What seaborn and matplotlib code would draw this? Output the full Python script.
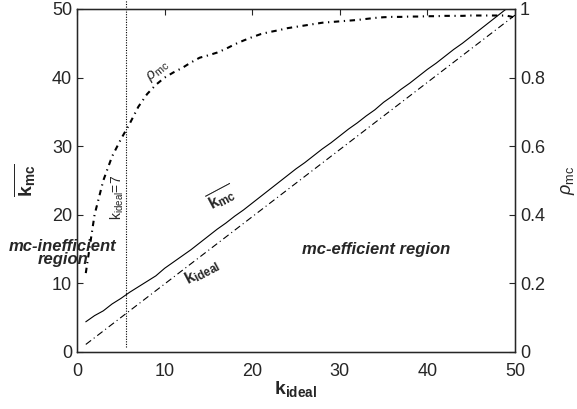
import numpy as np
import pandas as pd
import matplotlib
matplotlib.use("Agg")
import matplotlib.pyplot as plt
import seaborn as sns

# values
k_ideal = list(range(1, 51))
k_mc = [4.4, 5.3, 6.0, 7.0, 7.8, 8.7, 9.5, 10.3, 11.1, 12.2,
        13.1, 14.0, 14.9, 15.9, 16.9, 17.9, 18.8, 19.8, 20.7, 21.7,
        22.7, 23.7, 24.7, 25.7, 26.7, 27.6, 28.6, 29.6, 30.5, 31.5,
        32.5, 33.4, 34.4, 35.3, 36.4, 37.3, 38.3, 39.2, 40.2, 41.2,
        42.1, 43.1, 44.1, 45.0, 46.0, 47.0, 48.0, 49.0, 50.0, 51.0]
rho_mc = [0.23, 0.40, 0.50, 0.57, 0.62, 0.665, 0.715, 0.752, 0.779, 0.80,
          0.815, 0.828, 0.844, 0.858, 0.865, 0.873, 0.884, 0.897, 0.908, 0.918,
          0.927, 0.933, 0.938, 0.944, 0.948, 0.952, 0.956, 0.96, 0.962, 0.964,
          0.966, 0.968, 0.971, 0.974, 0.976, 0.977, 0.977, 0.978, 0.978, 0.979,
          0.979, 0.98, 0.98, 0.98, 0.981, 0.981, 0.981, 0.981, 0.981, 0.975]
ideal_x = [1, 50]
ideal_y = [1.1, 49.1]
k_thresh = 5.6

df = pd.DataFrame({'k': k_ideal, 'kmc': k_mc, 'rho': rho_mc})
ideal = pd.DataFrame({'x': ideal_x, 'y': ideal_y})

sns.set_style('white')
plt.rcParams['font.family'] = ['Liberation Sans', 'DejaVu Sans']
plt.rcParams['mathtext.fontset'] = 'custom'
plt.rcParams['mathtext.rm'] = 'Liberation Sans'
plt.rcParams['mathtext.it'] = 'Liberation Sans:italic'
plt.rcParams['mathtext.bf'] = 'Liberation Sans:bold'

fig = plt.figure(figsize=(5.77, 4.09), dpi=100)
ax = fig.add_axes([0.1335, 0.1394, 0.759, 0.8386])

sns.lineplot(data=df, x='k', y='kmc', ax=ax, color='black', lw=0.8)
sns.lineplot(data=ideal, x='x', y='y', ax=ax, color='black', lw=0.8,
             linestyle=(0, (6, 3, 1, 3)))
ax.plot([k_thresh, k_thresh], [0.7, 52.5], color='black', lw=0.8,
        linestyle=(0, (1, 1.3)), clip_on=False)

ax.set_xlim(0, 50)
ax.set_ylim(0, 50)
ax.set_xticks(range(0, 51, 10))
ax.set_yticks(range(0, 51, 10))
ax.tick_params(direction='in', labelsize=13, length=4, top=True, width=0.8)
ax.tick_params(axis='x', pad=8)
ax.set_xlabel(r'$\mathbf{k}_{\mathbf{ideal}}$', fontsize=14, labelpad=-1)
ax.set_ylabel(r'$\overline{\mathbf{k}_{\mathbf{mc}}}$', fontsize=14, labelpad=10)
for s in ax.spines.values():
    s.set_linewidth(1.0)
    s.set_color('black')

ax2 = ax.twinx()
sns.lineplot(data=df, x='k', y='rho', ax=ax2, color='black', lw=1.5,
             linestyle=(0, (2.6, 2.2, 0.6, 2.2)))
ax2.set_ylim(0, 1)
ax2.set_yticks([0, 0.2, 0.4, 0.6, 0.8, 1])
ax2.set_yticklabels(['0', '0.2', '0.4', '0.6', '0.8', '1'])
ax2.tick_params(direction='in', labelsize=13, length=4, width=0.8)
ax2.set_ylabel(r'$\rho_{\mathrm{mc}}$', fontsize=13, labelpad=10)
ax2.set_xlabel('')

ax.text(9.2, 41.0, r'$\rho_{\mathrm{mc}}$', fontsize=11, rotation=40,
        ha='center', va='center')
ax.text(4.6, 22.5, r'$\mathrm{k_{ideal}}$=7', fontsize=10, rotation=90,
        ha='center', va='center')
ax.text(16.5, 22.6, r'$\overline{\mathbf{k}_{\mathbf{mc}}}$', fontsize=12,
        rotation=28, ha='center', va='center')
ax.text(14.3, 11.6, r'$\mathbf{k}_{\mathbf{ideal}}$', fontsize=12,
        rotation=28, ha='center', va='center')
ax.text(-1.6, 14.4, 'mc-inefficient\nregion', fontsize=12, fontweight='bold',
        style='italic', ha='center', va='center', linespacing=0.8)
ax.text(34.2, 14.9, 'mc-efficient region', fontsize=12, fontweight='bold',
        style='italic', ha='center', va='center')

fig.savefig('out.png', dpi=100)
